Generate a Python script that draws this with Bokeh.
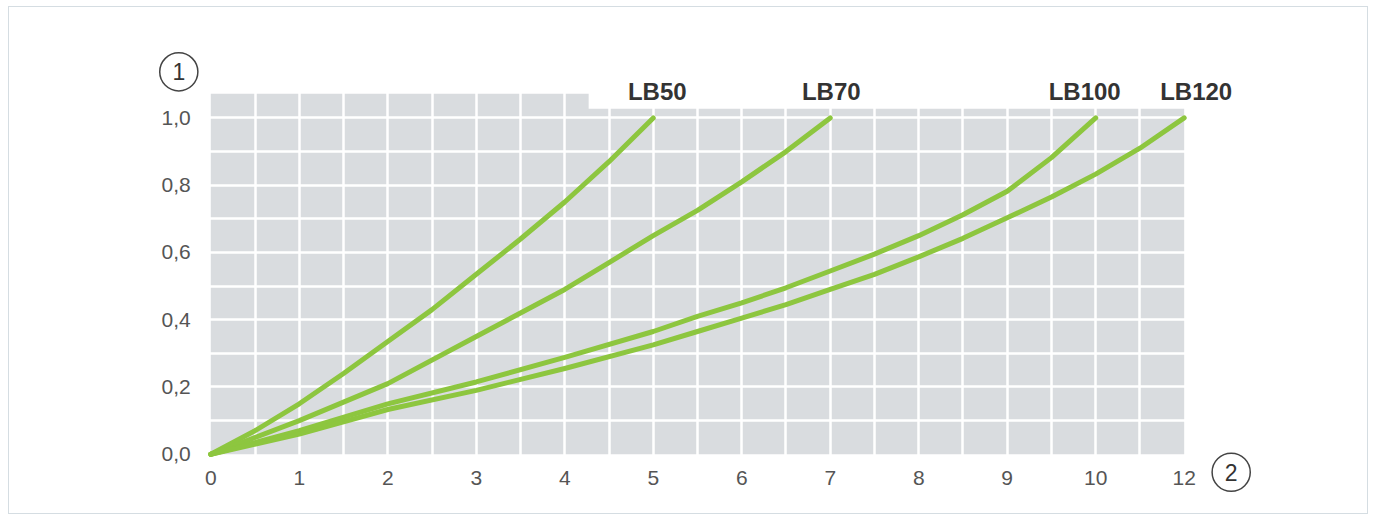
import numpy as np
from bokeh.plotting import figure
from bokeh.models import Range1d, FixedTicker, Grid, ColumnDataSource
from bokeh.core.properties import value
from bokeh.embed import file_html
from bokeh.resources import INLINE

# ---------------- data ----------------
LB50_X = [0, 0.5, 1, 1.5, 2, 2.5, 3, 3.5, 4, 4.5, 5]
LB50_Y = [0.0, 0.07, 0.15, 0.24, 0.335, 0.43, 0.535, 0.64, 0.75, 0.87, 1.0]

LB70_X = [0, 1, 2, 3, 4, 4.5, 5, 5.5, 6, 6.5, 7]
LB70_Y = [0.0, 0.10, 0.21, 0.35, 0.49, 0.57, 0.65, 0.725, 0.81, 0.90, 1.0]

LB100_X = [0, 1, 2, 3, 4, 5, 5.5, 6, 6.5, 7, 7.5, 8, 8.5, 9, 9.5, 10]
LB100_Y = [0.0, 0.07, 0.15, 0.215, 0.288, 0.365, 0.41, 0.45, 0.495, 0.545, 0.595,
           0.65, 0.712, 0.782, 0.882, 1.0]

LB120_X = [0, 1, 2, 3, 4, 5, 5.5, 6, 6.5, 7, 7.5, 8, 8.5, 9, 9.5, 10, 11, 12]
LB120_Y = [0.0, 0.06, 0.133, 0.19, 0.255, 0.325, 0.365, 0.405, 0.445, 0.49, 0.535,
           0.587, 0.642, 0.703, 0.765, 0.833, 0.91, 1.0]

SERIES_NAMES = ["LB50", "LB70", "LB100", "LB120"]

X_TICKS = [0, 1, 2, 3, 4, 5, 6, 7, 8, 9, 10, 12]
X_TICK_LABELS = ["0", "1", "2", "3", "4", "5", "6", "7", "8", "9", "10", "12"]
Y_TICKS = [0.0, 0.2, 0.4, 0.6, 0.8, 1.0]
Y_TICK_LABELS = ["0,0", "0,2", "0,4", "0,6", "0,8", "1,0"]

X_AXIS_NAME = "2"
Y_AXIS_NAME = "1"

# ---------------- styles / layout ----------------
GREEN = "#8dc63f"
GRID_BG = "#d9dcdf"
TEXT_COL = "#555555"
LABEL_COL = "#333333"
LABEL_DX = [4, 1, -11, 12]
FONT = value("Liberation Sans")

W, H = 1360, 508
CANVAS_W, CANVAS_H = W - 2, H - 2      # inside the 1px page border
PX_X = 88.36                           # pixels per x step
PX_Y = 335.0                           # pixels per y unit
ORIGIN_X = 201                         # canvas px of x = 0
ORIGIN_Y = 445                         # canvas px of y = 0


def axis_pos(v):
    """The x axis is broken: units 0..10 evenly, then 10..12 squeezed into one step."""
    v = np.asarray(v, dtype=float)
    return np.where(v <= 10, v, 10 + (v - 10) / 2.0)


X_MAX = float(axis_pos([12])[0])
Y_TOP = 1.0716
NOTCH_LEFT, NOTCH_BOTTOM = 4.27, 1.027

p = figure(width=W, height=H, output_backend="svg", toolbar_location=None,
           x_axis_type=None, y_axis_type=None,
           x_range=Range1d(-ORIGIN_X / PX_X, (CANVAS_W - ORIGIN_X) / PX_X),
           y_range=Range1d(-(CANVAS_H - ORIGIN_Y) / PX_Y, ORIGIN_Y / PX_Y),
           min_border=0, min_border_left=0, min_border_right=0,
           min_border_top=0, min_border_bottom=0)
p.styles = {"border": "1px solid #d5dde2", "margin-left": "8px", "margin-top": "6px"}
p.outline_line_color = None
p.background_fill_color = "white"
p.border_fill_color = "white"

# grey plotting area with a white notch at the top right
p.quad(left=[0], right=[X_MAX], bottom=[0], top=[Y_TOP],
       fill_color=GRID_BG, line_color=None, level="image")
p.quad(left=[NOTCH_LEFT], right=[X_MAX + 0.5], bottom=[NOTCH_BOTTOM], top=[Y_TOP + 0.1],
       fill_color="white", line_color=None, level="image")

# white grid
xg = Grid(dimension=0, ticker=FixedTicker(ticks=[i * 0.5 for i in range(1, 22)]))
yg = Grid(dimension=1, ticker=FixedTicker(ticks=[i * 0.1 for i in range(1, 11)]))
for g in (xg, yg):
    g.grid_line_color = "white"
    g.grid_line_width = 2.5
    p.add_layout(g, "center")

# tick labels
p.text(x=axis_pos(X_TICKS), y=[0] * len(X_TICKS), text=X_TICK_LABELS,
       y_offset=24, text_align="center", text_baseline="middle",
       text_font=FONT, text_font_size="21px", text_color=TEXT_COL)
p.text(x=[0] * len(Y_TICKS), y=Y_TICKS, text=Y_TICK_LABELS,
       x_offset=-20, y_offset=0, text_align="right", text_baseline="middle",
       text_font=FONT, text_font_size="21px", text_color=TEXT_COL)

# curves
series = [(LB50_X, LB50_Y), (LB70_X, LB70_Y), (LB100_X, LB100_Y), (LB120_X, LB120_Y)]
for xs, ys in series:
    p.line(axis_pos(xs), ys, line_color=GREEN, line_width=5,
           line_cap="round", line_join="round")

# series labels at the end of each curve
lab_src = ColumnDataSource(dict(
    x=[float(axis_pos([xs[-1]])[0]) for xs, _ in series],
    y=[ys[-1] for _, ys in series],
    text=SERIES_NAMES,
    dx=LABEL_DX,
))
p.text(x="x", y="y", text="text", source=lab_src, x_offset="dx", y_offset=-26,
       text_align="center", text_baseline="middle",
       text_font=FONT, text_font_style="bold", text_font_size="24px", text_color=LABEL_COL)

# circled axis names
name_src = ColumnDataSource(dict(
    x=[0.0, X_MAX], y=[Y_TOP, 0.0], text=[Y_AXIS_NAME, X_AXIS_NAME],
    dx=[-32, 47], dy=[-22, 18],
))
p.text(x="x", y="y", text="text", source=name_src, x_offset="dx", y_offset="dy",
       text_align="center", text_baseline="middle",
       text_font=FONT, text_font_size="23px", text_color=LABEL_COL,
       outline_shape="circle", border_line_color="#444444", border_line_width=1.5,
       padding=6)

open("out.html", "w").write(file_html(p, INLINE))
